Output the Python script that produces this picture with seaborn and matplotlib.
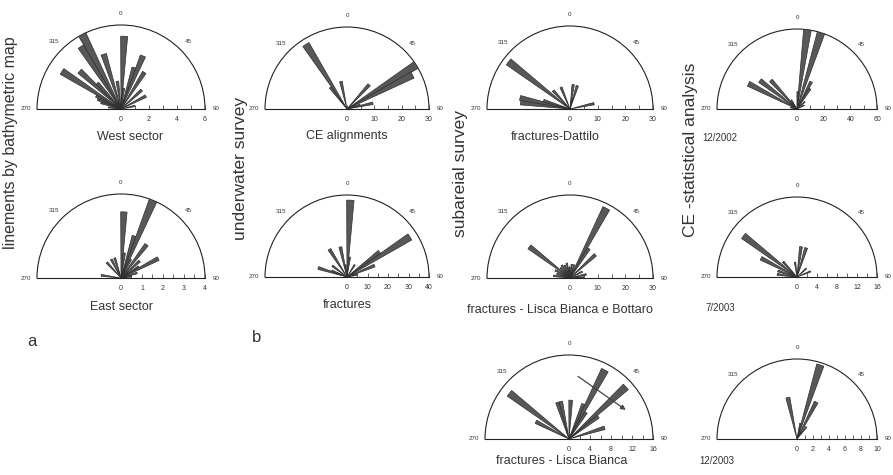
import numpy as np
import matplotlib
matplotlib.use('Agg')
import matplotlib.pyplot as plt
import seaborn as sns

# half-rose data: azimuth (deg, -90 = 270, 0 = N, 90 = E) and bar length
west_ang = [-82.5, -72.5, -67.5, -62.5, -57.5, -47.5, -42.5, -32.5, -27.5, -17.5, -7.5, 2.5, 7.5, 17.5, 22.5, 32.5, 47.5, 62.5, 77.5]
west_len = [0.9, 1.5, 1.8, 2.0, 5.0, 4.0, 2.5, 5.3, 6.0, 4.1, 2.0, 5.2, 1.5, 3.1, 4.1, 3.1, 2.0, 2.0, 1.0]

east_ang = [-82.5, -42.5, -27.5, -17.5, 2.5, 7.5, 17.5, 22.5, 27.5, 37.5, 47.5, 57.5, 62.5, 72.5, 82.5]
east_len = [0.95, 1.0, 1.0, 1.0, 3.15, 1.2, 2.1, 4.0, 1.0, 2.0, 1.2, 1.0, 2.0, 0.8, 0.5]

ce_ang = [-37.5, -32.5, -12.5, 42.5, 57.5, 62.5, 72.5, 77.5]
ce_len = [10, 28, 10.3, 12, 30, 27, 5, 9.7]

frac_ang = [-72.5, -67.5, -52.5, -32.5, -12.5, -7.5, 2.5, 7.5, 32.5, 52.5, 57.5, 67.5, 77.5]
frac_len = [14.7, 8, 9, 16, 15, 6, 37.5, 9.8, 7, 20, 36.4, 14.5, 5]

datt_ang = [-82.5, -77.5, -72.5, -52.5, -42.5, -22.5, 7.5, 12.5, 17.5, 77.5]
datt_len = [18, 18.5, 10, 28, 9, 8.5, 8.9, 4, 8.8, 8.9]

lbb_ang = [-82.5, -72.5, -62.5, -52.5, -42.5, -32.5, -22.5, -12.5, -2.5, 7.5, 17.5, 27.5, 32.5, 47.5, 62.5, 77.5, 87.5]
lbb_len = [6, 5, 6, 18.5, 5, 5.5, 5, 5.5, 4, 5, 5, 28.4, 12.6, 12.4, 5, 6, 5]

d1202_ang = [-77.5, -62.5, -52.5, -42.5, -32.5, 2.5, 7.5, 17.5, 27.5, 32.5, 47.5, 62.5]
d1202_len = [5, 41, 35, 29, 8, 13, 60, 60, 23, 18, 8, 6]

d0703_ang = [-82.5, -72.5, -62.5, -52.5, -42.5, -7.5, 7.5, 17.5, 47.5, 67.5]
d0703_len = [4, 4, 8.1, 13.5, 4.1, 3, 6.1, 6.1, 2.5, 2.9]

lb_ang = [-62.5, -52.5, -17.5, -12.5, 2.5, 22.5, 27.5, 32.5, 47.5, 52.5, 72.5]
lb_len = [7.1, 14.3, 7.3, 7.3, 7.4, 7.2, 14.8, 6, 14.7, 7, 7.1]

d1203_ang = [-12.5, 12.5, 17.5, 27.5, 37.5]
d1203_len = [5.3, 2, 9.7, 5.2, 1.9]

sns.set_theme(style='white')
plt.rcParams['font.family'] = ['Liberation Sans', 'DejaVu Sans']

W, H = 893, 475
fig = plt.figure(figsize=(W / 100, H / 100), dpi=100)


def rose(cx, cy, R, ang, val, rmax, step, minor):
    # polar box is square; the half disc sits in its middle, so shift it up by R/2
    ax = fig.add_axes([(cx - R) / W, (H - cy - R / 2) / H, 2 * R / W, 2 * R / H], projection='polar')
    ax.set_theta_zero_location('N')
    ax.set_theta_direction(-1)
    ax.set_thetamin(-90)
    ax.set_thetamax(90)
    ax.bar(np.deg2rad(ang), val, width=np.deg2rad(5.5), color='#585858',
           edgecolor='#2e2e2e', linewidth=0.5, zorder=3)
    ax.set_ylim(0, rmax)
    ax.set_xticks(np.deg2rad([-90, -45, 0, 45, 90]))
    ax.set_xticklabels(['270', '315', '0', '45', '90'], fontsize=4.5, color='#333')
    ax.set_xticks(np.deg2rad([-67.5, -22.5, 22.5, 67.5]), minor=True)
    ax.tick_params(axis='x', which='major', direction='in', length=5, width=0.6, pad=1)
    ax.tick_params(axis='x', which='minor', direction='in', length=3, width=0.5)
    ax.set_yticks(np.arange(0, rmax + step / 2, step))
    ax.set_yticks(np.arange(0, rmax + minor / 2, minor), minor=True)
    ax.tick_params(axis='y', which='both', left=False, labelleft=False, right=True,
                   labelright=True, labelsize=5, direction='in', length=3, width=0.5,
                   labelcolor='#333', pad=5)
    ax.grid(False)
    for s in ax.spines.values():
        s.set_linewidth(0.8)
        s.set_color('#222')
    return ax


rose(121, 109, 84, west_ang, west_len, 6, 2, 1)
rose(121, 278, 84, east_ang, east_len, 4, 1, 0.5)
rose(347, 109, 82, ce_ang, ce_len, 30, 10, 5)
rose(347, 277, 82, frac_ang, frac_len, 40, 10, 5)
rose(570, 109, 83, datt_ang, datt_len, 30, 10, 5)
rose(570, 278, 83, lbb_ang, lbb_len, 30, 10, 5)
rose(797, 109, 80, d1202_ang, d1202_len, 60, 20, 10)
rose(797, 277, 80, d0703_ang, d0703_len, 16, 4, 2)
ax9 = rose(569, 439, 84, lb_ang, lb_len, 16, 4, 2)
rose(797, 439, 80, d1203_ang, d1203_len, 10, 2, 1)

ax9.annotate('', xy=(np.deg2rad(65), 12.4), xytext=(np.deg2rad(6), 12.3),
             arrowprops=dict(arrowstyle='-|>', color='#444', lw=0.9, mutation_scale=7), zorder=4)


def label(x, y, s, size=9, ha='center', rot=0):
    fig.text(x / W, 1 - y / H, s, fontsize=size, ha=ha, va='center', rotation=rot, color='#333')


label(130, 137, 'West sector')
label(121, 307, 'East sector')
label(347, 136, 'CE alignments')
label(347, 305, 'fractures')
label(555, 137, 'fractures-Dattilo')
label(560, 310, 'fractures - Lisca Bianca e Bottaro')
label(562, 461, 'fractures - Lisca Bianca')
label(702, 138, '12/2002', size=7, ha='left')
label(705, 308, '7/2003', size=7, ha='left')
label(699, 461, '12/2003', size=7, ha='left')
label(32, 342, 'a', size=12)
label(257, 338, 'b', size=12)

label(11, 143, 'linements by bathymetric map', size=11.5, rot=90)
label(241, 168, 'underwater survey', size=12.5, rot=90)
label(461, 174, 'subareial survey', size=12.5, rot=90)
label(690, 150, 'CE -statistical analysis', size=12.5, rot=90)

fig.savefig('out.png', dpi=100)
